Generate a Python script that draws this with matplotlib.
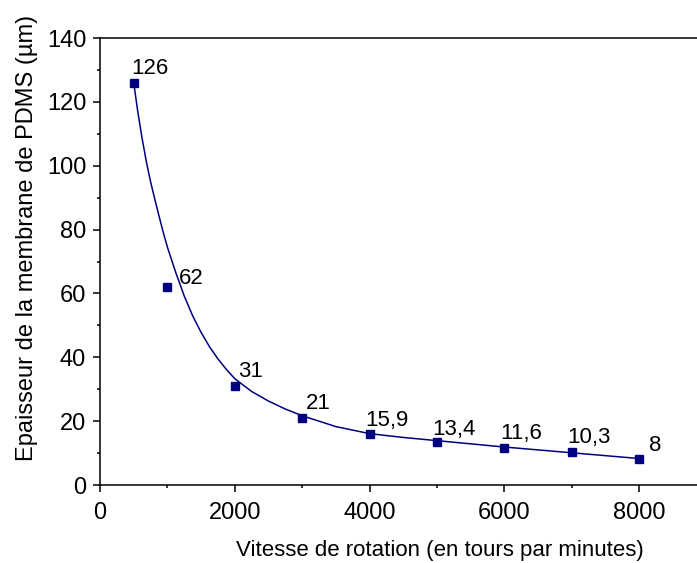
import matplotlib.pyplot as plt
from matplotlib.ticker import MultipleLocator

plt.rcParams['font.family'] = ['Liberation Sans', 'DejaVu Sans']

# measured points
speed = [500, 1000, 2000, 3000, 4000, 5000, 6000, 7000, 8000]
thickness = [126, 62, 31, 21, 15.9, 13.4, 11.6, 10.3, 8]
labels = ['126', '62', '31', '21', '15,9', '13,4', '11,6', '10,3', '8']

# fitted curve
fit_x = [500, 560, 625, 690, 750, 810, 875, 940, 1000, 1125, 1250, 1375,
         1500, 1625, 1750, 1875, 2000, 2250, 2500, 2750, 3000, 3500,
         4000, 4500, 5000, 6000, 7000, 8000]
fit_y = [126, 117, 108.5, 101, 95, 89.8, 84.3, 79.0, 74.5, 66.5, 59.2, 53,
         47.8, 43.3, 39.5, 36.2, 33.3, 29.3, 26.3, 23.8, 21.7, 18.3,
         16.1, 14.9, 13.9, 11.9, 10.1, 8.3]

# label offsets in points (dx, dy) from the marker to the text baseline
offsets = [(-1.9, 6.5), (8.4, 2.2), (2.6, 6.2), (2.4, 6.2), (-3.4, 5.6),
           (-3.3, 5.3), (-3.1, 6.2), (-2.9, 6.6), (7.4, 6.2)]

fig = plt.figure(figsize=(6.97, 5.63), dpi=100)
ax = fig.add_axes([0.1435, 0.1385, 0.8565, 0.794])

ax.plot(fit_x, fit_y, color='#000080', linewidth=1.1)
ax.plot(speed, thickness, linestyle='none', marker='s', markersize=6.3,
        color='#000080')

for x, y, s, (dx, dy) in zip(speed, thickness, labels, offsets):
    ax.annotate(s, (x, y), xytext=(dx, dy), textcoords='offset points',
                fontsize=16, ha='left', va='baseline')

ax.set_xlim(0, 8860)
ax.set_ylim(0, 140)
ax.xaxis.set_major_locator(MultipleLocator(2000))
ax.xaxis.set_minor_locator(MultipleLocator(1000))
ax.yaxis.set_major_locator(MultipleLocator(20))
ax.yaxis.set_minor_locator(MultipleLocator(10))

ax.spines['right'].set_visible(False)
for sp in ['left', 'bottom', 'top']:
    ax.spines[sp].set_linewidth(1.1)

ax.tick_params(which='major', direction='out', length=5, width=1.1, labelsize=17)
ax.tick_params(which='minor', direction='out', length=2.5, width=1.1)
ax.tick_params(axis='x', which='major', pad=7)
ax.tick_params(axis='y', which='major', pad=5)

ax.set_xlabel('Vitesse de rotation (en tours par minutes)', fontsize=16,
              labelpad=12, x=0.5687)
ax.set_ylabel('Epaisseur de la membrane de PDMS (µm)', fontsize=17,
              labelpad=6, y=0.5537)

fig.savefig('out.png', dpi=100)
